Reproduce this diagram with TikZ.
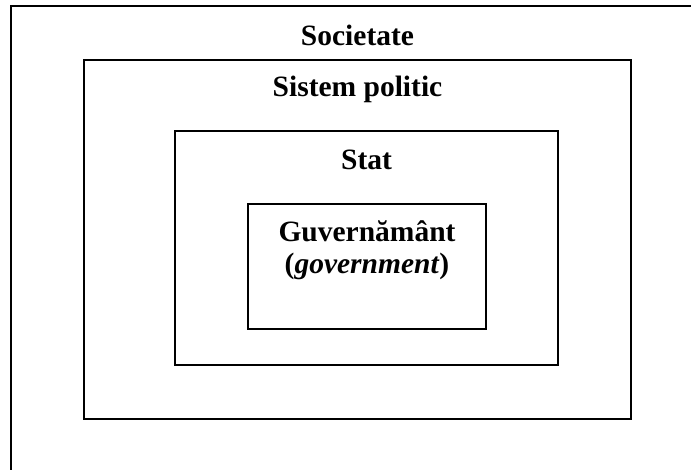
\documentclass[tikz,border=0pt]{standalone}
\usepackage{fontspec}
\setmainfont{Liberation Serif}
\begin{document}
\begin{tikzpicture}[x=1pt,y=-1pt,
	box/.style={line width=1.5pt, black},
	title/.style={font=\fontsize{29.5}{35}\selectfont\bfseries, anchor=base, inner sep=0pt}]
	%Picture frame, one unit = one pixel of the reference
	\useasboundingbox (0,0) rectangle (691,470);
	\clip (0,0) rectangle (691,470);
	
	%The nested boxes (the outer one runs off the page)
	\draw[box] (11,6) rectangle (720,500);
	\draw[box] (84,60) rectangle (631,419);
	\draw[box] (175,131) rectangle (558,365);
	\draw[box] (248,204) rectangle (486,329);
	
	%Labels
	\node[title] (societate) at (357.5,46) {Societate};
	\node[title] (sistem) at (357.5,97) {Sistem politic};
	\node[title] (stat) at (366.5,170) {Stat};
	\node[title] (guv) at (367,242) {Guvernământ};
	\node[title] (gov) at (367,274) {(\textit{government})};
\end{tikzpicture}
\end{document}
